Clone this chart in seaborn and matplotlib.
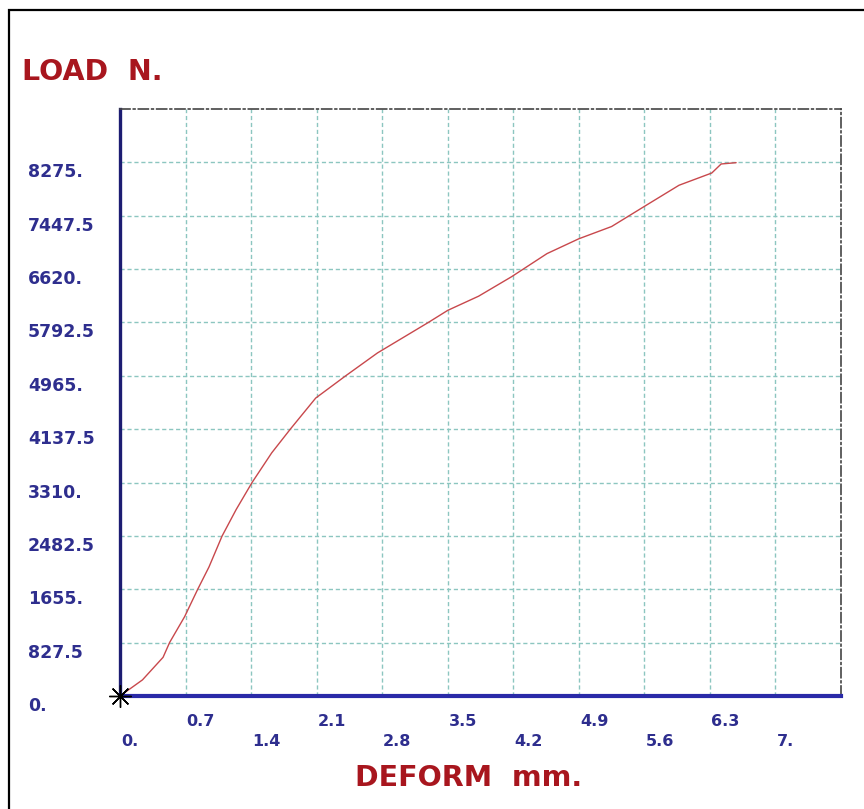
import matplotlib
matplotlib.use("Agg")
import matplotlib.pyplot as plt
from matplotlib.transforms import ScaledTranslation
from matplotlib.patches import Rectangle
import seaborn as sns
import pandas as pd
import numpy as np

# ---- data ----
deform = [0, 0.24, 0.46, 0.53, 0.69, 0.83, 0.95, 1.09, 1.24, 1.41, 1.62, 1.82,
          2.09, 2.41, 2.75, 3.29, 3.50, 3.83, 4.18, 4.56, 4.90, 5.25, 5.62,
          5.97, 6.32, 6.42, 6.58]
load = [0, 250, 600, 830, 1230, 1655, 2000, 2480, 2890, 3310, 3770, 4140,
        4620, 4965, 5320, 5790, 5980, 6200, 6500, 6860, 7090, 7280, 7610,
        7920, 8110, 8250, 8270]
x_ticks = [0, 0.7, 1.4, 2.1, 2.8, 3.5, 4.2, 4.9, 5.6, 6.3, 7.0]
x_labels = ["0.", "0.7", "1.4", "2.1", "2.8", "3.5", "4.2", "4.9", "5.6", "6.3", "7."]
y_ticks = [0, 827.5, 1655, 2482.5, 3310, 4137.5, 4965, 5792.5, 6620, 7447.5, 8275]
y_labels = ["0.", "827.5", "1655.", "2482.5", "3310.", "4137.5", "4965.",
            "5792.5", "6620.", "7447.5", "8275."]
x_max = 7.7
y_max = 9102.5

sns.set_style("white")
plt.rcParams["font.family"] = ["DejaVu Sans"]

df = pd.DataFrame({"deform": deform, "load": load})

fig = plt.figure(figsize=(8.64, 8.09), dpi=100)
W, H = 864, 809
ax = fig.add_axes([120 / W, 1 - 696 / H, (841 - 120) / W, (696 - 109) / H])

sns.lineplot(data=df, x="deform", y="load", ax=ax, color="#c8484c",
             linewidth=1.0, sort=False)
ax.plot([0], [0], marker=(8, 2, 0), markersize=16, color="black",
        markeredgewidth=1.0, clip_on=False, zorder=5)

ax.set_xlim(0, x_max)
ax.set_ylim(0, y_max)

# grid
ax.set_xticks(x_ticks)
ax.set_yticks(y_ticks)
ax.grid(True, color="#8cc6c0", linestyle=(0, (3, 2)), linewidth=1.0)
ax.set_axisbelow(True)

# spines
ax.spines["left"].set_color("#1c1c72")
ax.spines["left"].set_linewidth(2.4)
ax.spines["bottom"].set_color("#2a2aa8")
ax.spines["bottom"].set_linewidth(3.0)
for s in ("top", "right"):
    ax.spines[s].set_color("#444444")
    ax.spines[s].set_linewidth(1.2)
    ax.spines[s].set_linestyle((0, (6, 2, 1, 2)))

ax.set_xlabel("")
ax.set_ylabel("")
ax.tick_params(length=0)

label_color = "#2e2e8e"
# x tick labels, staggered in two rows
xl = []
for i, lab in enumerate(x_labels):
    xl.append(lab + "\n" if i % 2 == 1 else "\n" + lab)
ax.set_xticklabels(xl, fontsize=11.5, fontweight="bold", color=label_color,
                   ha="left", va="top", linespacing=1.45)
ax.tick_params(axis="x", pad=13)
off_x = ScaledTranslation(1 / 100, 0, fig.dpi_scale_trans)
for t in ax.get_xticklabels():
    t.set_transform(t.get_transform() + off_x)

# y tick labels, left aligned
ax.set_yticklabels(y_labels, fontsize=12.5, fontweight="bold", color=label_color,
                   ha="left", va="center")
ax.tick_params(axis="y", pad=92 * 72 / 100)
off_y = ScaledTranslation(0, -10 / 100, fig.dpi_scale_trans)
for t in ax.get_yticklabels():
    t.set_transform(t.get_transform() + off_y)

# axis titles
title_color = "#a8161e"
fig.text(22 / W, 1 - 72 / H, "LOAD  N.", fontsize=20.5, fontweight="bold",
         color=title_color, ha="left", va="center")
fig.text(469 / W, 1 - 778 / H, "DEFORM  mm.", fontsize=20.5, fontweight="bold",
         color=title_color, ha="center", va="center")

# outer frame (top and left edges visible)
fig.patches.append(Rectangle((9 / W, -0.1), 1.2, 1 - 10 / H + 0.1,
                             transform=fig.transFigure, fill=False,
                             edgecolor="black", linewidth=1.6))

fig.savefig("out.png", dpi=100)
